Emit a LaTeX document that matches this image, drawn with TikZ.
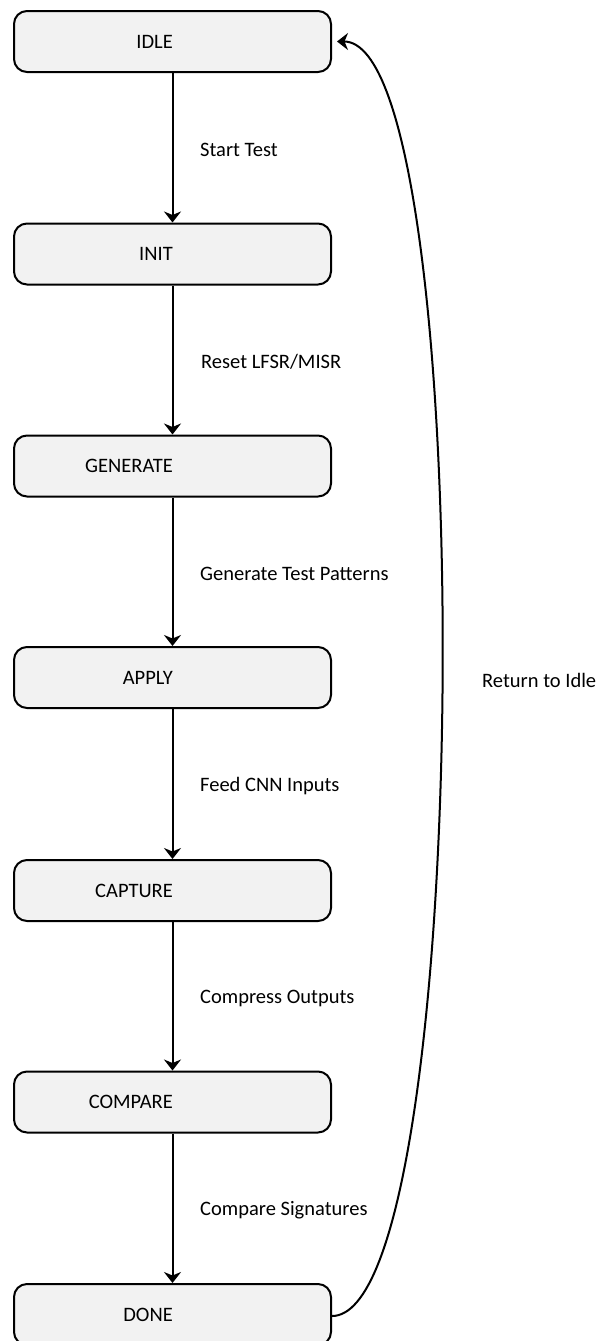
\documentclass[tikz,border=0pt]{standalone}
\usepackage{fontspec}
\setmainfont{Carlito}
\usetikzlibrary{arrows.meta}
\definecolor{boxfill}{HTML}{F2F2F2}
\tikzset{
  statebox/.style={draw=black, line width=2pt, fill=boxfill, rounded corners=13pt,
    minimum width=317pt, minimum height=61pt, inner sep=0pt},
  boxtext/.style={anchor=east, inner sep=0pt, font=\fontsize{20.5}{24}\selectfont},
  edgelabel/.style={anchor=west, inner sep=0pt, font=\fontsize{20.5}{24}\selectfont},
  flow/.style={draw=black, line width=2pt, -{Stealth[length=11pt,width=17pt,inset=3.5pt]}}
}
\begin{document}
\begin{tikzpicture}[x=1pt,y=-1pt]
\path[use as bounding box] (0,0) rectangle (598,1341);
\foreach \n/\t/\y in {idle/IDLE/41.5, init/INIT/254, gen/GENERATE/466, apply/APPLY/677.5, capture/CAPTURE/890.5, compare/COMPARE/1102, done/DONE/1314.5}{
  \node[statebox] (\n) at (172.5,\y) {};
  \node[boxtext] (\n-t) at (173,\y) {\t};
}
\draw[flow] (idle.south) -- (init.north);
\draw[flow] (init.south) -- (gen.north);
\draw[flow] (gen.south) -- (apply.north);
\draw[flow] (apply.south) -- (capture.north);
\draw[flow] (capture.south) -- (compare.north);
\draw[flow] (compare.south) -- (done.north);
\node[edgelabel] (l1) at (200,150) {Start Test};
\node[edgelabel] (l2) at (201,362) {Reset LFSR/MISR};
\node[edgelabel] (l3) at (200,574) {Generate Test Patterns};
\node[edgelabel] (l4) at (200,786) {Feed CNN Inputs};
\node[edgelabel] (l5) at (200,998) {Compress Outputs};
\node[edgelabel] (l6) at (200,1210) {Compare Signatures};
\node[edgelabel] (l7) at (482,680) {Return to Idle};
\coordinate (tipend) at ([xshift=5pt]idle.east);
\draw[flow] ([yshift=-1.5pt]done.east) .. controls +(143,0) and +(143,0) .. (tipend);
\end{tikzpicture}
\end{document}
